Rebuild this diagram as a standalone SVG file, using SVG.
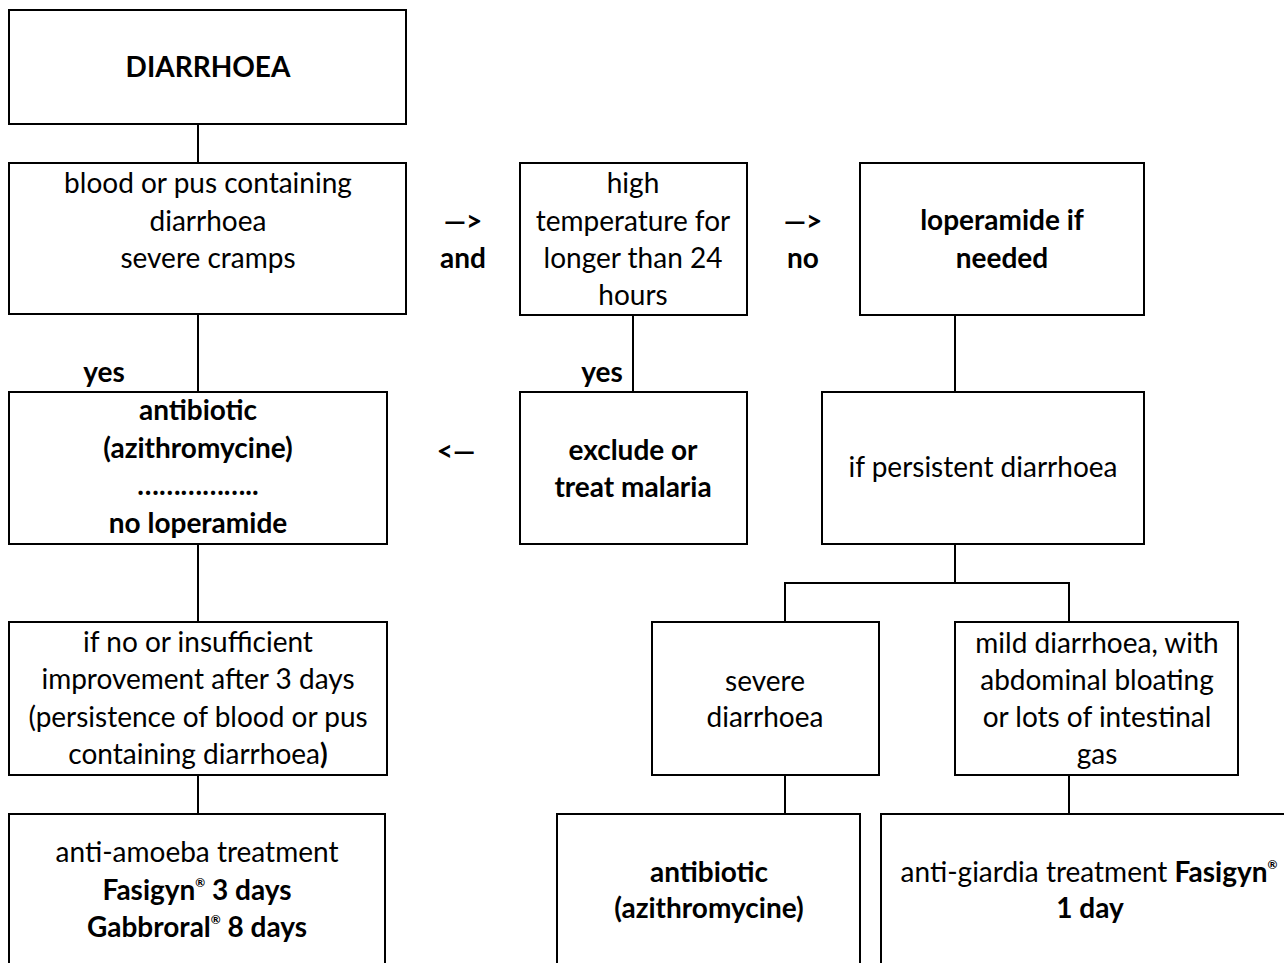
<svg xmlns="http://www.w3.org/2000/svg" width="1284" height="963" viewBox="0 0 1284 963">
<style>
  .box { fill: #fff; stroke: #000; stroke-width: 2; }
  .ln { fill: none; stroke: #000; stroke-width: 2; }
  text { font-family: Lato, "Liberation Sans", sans-serif; font-size: 28px; fill: #000; text-anchor: middle; }
  .b { font-weight: bold; }
  .sup { font-size: 12px; font-weight: bold; }
</style>
<rect width="1284" height="963" fill="#fff"/>
<g id="connectors">
  <line class="ln" x1="198" y1="124" x2="198" y2="163"/>
  <line class="ln" x1="198" y1="314" x2="198" y2="392"/>
  <line class="ln" x1="633" y1="315" x2="633" y2="392"/>
  <line class="ln" x1="955" y1="315" x2="955" y2="392"/>
  <line class="ln" x1="198" y1="544" x2="198" y2="622"/>
  <line class="ln" x1="198" y1="775" x2="198" y2="814"/>
  <polyline class="ln" points="955,544 955,583"/>
  <polyline class="ln" points="785,622 785,583 1069,583 1069,622"/>
  <line class="ln" x1="785" y1="775" x2="785" y2="814"/>
  <line class="ln" x1="1069" y1="775" x2="1069" y2="814"/>
  <text class="b" x="463" y="231">—&gt;</text>
  <text class="b" x="463" y="268">and</text>
  <text class="b" x="803" y="231">—&gt;</text>
  <text class="b" x="803" y="268">no</text>
  <text class="b" x="456" y="461">&lt;—</text>
  <text class="b" x="104" y="382">yes</text>
  <text class="b" x="602" y="382">yes</text>
</g>
<g id="n1">
  <rect class="box" x="9" y="10" width="397" height="114"/>
  <text class="b" x="208" y="77">DIARRHOEA</text>
</g>
<g id="n2">
  <rect class="box" x="9" y="163" width="397" height="151"/>
  <text x="208" y="193">blood or pus containing</text>
  <text x="208" y="231">diarrhoea</text>
  <text x="208" y="268">severe cramps</text>
</g>
<g id="n3">
  <rect class="box" x="520" y="163" width="227" height="152"/>
  <text x="633" y="193">high</text>
  <text x="633" y="231">temperature for</text>
  <text x="633" y="268">longer than 24</text>
  <text x="633" y="305">hours</text>
</g>
<g id="n4">
  <rect class="box" x="860" y="163" width="284" height="152"/>
  <text class="b" x="1002" y="230">loperamide if</text>
  <text class="b" x="1002" y="268">needed</text>
</g>
<g id="n5">
  <rect class="box" x="9" y="392" width="378" height="152"/>
  <text class="b" x="198" y="420">antibiotic</text>
  <text class="b" x="198" y="458">(azithromycine)</text>
  <text class="b" x="198" y="495">……………..</text>
  <text class="b" x="198" y="533">no loperamide</text>
</g>
<g id="n6">
  <rect class="box" x="520" y="392" width="227" height="152"/>
  <text class="b" x="633" y="460">exclude or</text>
  <text class="b" x="633" y="497">treat malaria</text>
</g>
<g id="n7">
  <rect class="box" x="822" y="392" width="322" height="152"/>
  <text x="983" y="477">if persistent diarrhoea</text>
</g>
<g id="n8">
  <rect class="box" x="9" y="622" width="378" height="153"/>
  <text x="198" y="652">if no or insufficient</text>
  <text x="198" y="689">improvement after 3 days</text>
  <text x="198" y="727">(persistence of blood or pus</text>
  <text x="198" y="764">containing diarrhoea<tspan class="b">)</tspan></text>
</g>
<g id="n9">
  <rect class="box" x="652" y="622" width="227" height="153"/>
  <text x="765" y="691">severe</text>
  <text x="765" y="727">diarrhoea</text>
</g>
<g id="n10">
  <rect class="box" x="955" y="622" width="283" height="153"/>
  <text x="1097" y="653">mild diarrhoea, with</text>
  <text x="1097" y="690">abdominal bloating</text>
  <text x="1097" y="727">or lots of intestinal</text>
  <text x="1097" y="764">gas</text>
</g>
<g id="n11">
  <rect class="box" x="9" y="814" width="376" height="160"/>
  <text x="197" y="862">anti-amoeba treatment</text>
  <text class="b" x="197" y="900">Fasigyn<tspan class="sup" dy="-13">®</tspan><tspan dy="13"> 3 days</tspan></text>
  <text class="b" x="197" y="937">Gabbroral<tspan class="sup" dy="-13">®</tspan><tspan dy="13"> 8 days</tspan></text>
</g>
<g id="n12">
  <rect class="box" x="557" y="814" width="303" height="160"/>
  <text class="b" x="709" y="882">antibiotic</text>
  <text class="b" x="709" y="918">(azithromycine)</text>
</g>
<g id="n13">
  <rect class="box" x="881" y="814" width="420" height="160"/>
  <text x="1089" y="882">anti-giardia treatment <tspan class="b">Fasigyn</tspan><tspan class="sup" dy="-13">®</tspan></text>
  <text class="b" x="1090" y="918">1 day</text>
</g>
</svg>
